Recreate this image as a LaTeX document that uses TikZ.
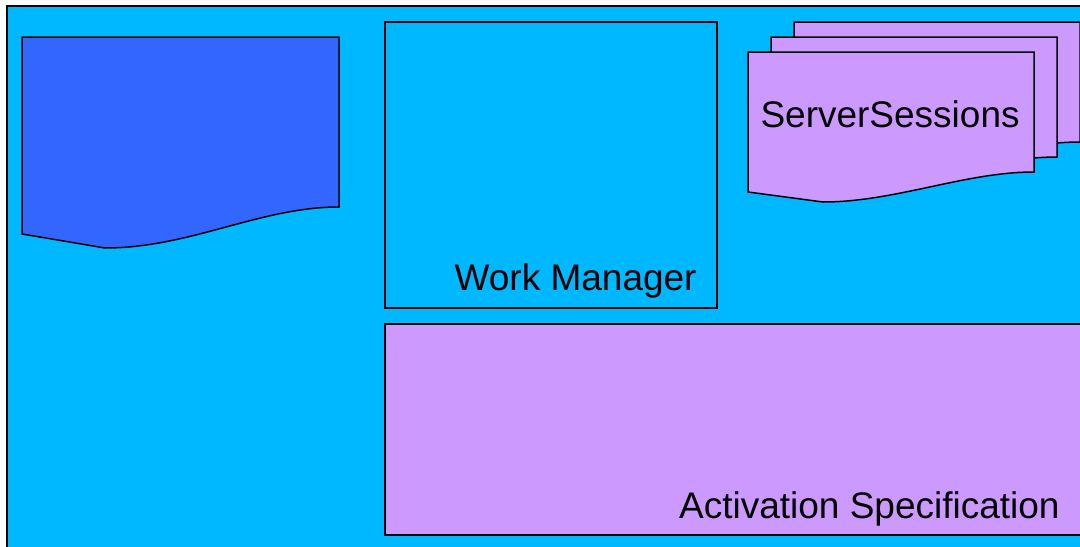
\documentclass[tikz,border=0pt]{standalone}
\usepackage{fontspec}
\setmainfont{Liberation Sans}
\definecolor{canvas}{RGB}{0,184,255}
\definecolor{docblue}{RGB}{51,102,255}
\definecolor{lilac}{RGB}{204,153,255}
\begin{document}
\begin{tikzpicture}[x=0.5pt,y=-0.5pt,
  frame/.style={draw=black,line width=1pt},
  panel/.style={draw=black,line width=0.75pt},
  label/.style={anchor=base east,inner sep=0pt,font=\fontsize{18.5pt}{22pt}\selectfont}]
\useasboundingbox (0,0) rectangle (1080,546);
\clip (0,0) rectangle (1080,546);
% outer container
\fill[white] (0,0) rectangle (1080,546);
\draw[frame,fill=canvas] (7,6) rectangle (1100,560);
% blue document
\draw[panel,fill=docblue] (22,37) -- (339,37) -- (339,207)
  .. controls (260,207) and (190,248) .. (105,248) -- (22,234) -- cycle;
% work manager box
\draw[panel,fill=canvas] (385,22) rectangle (717,308);
\node[label] (wm) at (697,290) {Work Manager};
% stacked server session documents
\foreach \dx/\dy in {46/-30,23/-15,0/0}{
  \begin{scope}[shift={(\dx,\dy)}]
  \draw[panel,fill=lilac] (748,52) -- (1034,52) -- (1034,172)
    .. controls (965,172) and (895,202) .. (823,202) -- (748,192) -- cycle;
  \end{scope}
}
\node[label] (ss) at (1020,127) {ServerSessions};
% activation specification box
\draw[panel,fill=lilac] (385,324) rectangle (1100,535);
\node[label] (as) at (1060,518) {Activation Specification};
\end{tikzpicture}
\end{document}
